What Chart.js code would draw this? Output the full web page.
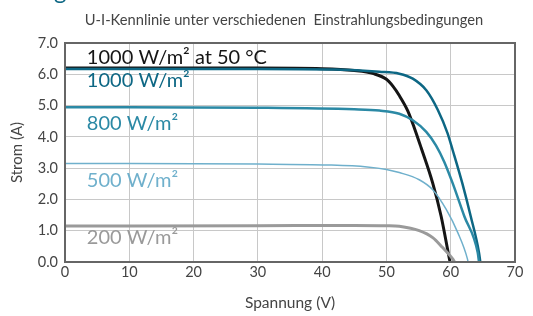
<!DOCTYPE html>
<html>
<head>
<meta charset="utf-8">
<script src="https://cdn.jsdelivr.net/npm/chart.js@4"></script>
<style>
  html, body { margin: 0; padding: 0; background: #fff; }
  #wrap { width: 533px; height: 316px; }
</style>
</head>
<body>
<div id="wrap"><canvas id="chart" width="533" height="316"></canvas></div>
<script>
// Données (Spannung en V, Strom en A)
const xTicks = [0, 10, 20, 30, 40, 50, 60, 70]
const yTicks = [0, 1, 2, 3, 4, 5, 6, 7]

const hot1000V = [0, 30, 40, 45, 48, 50, 51, 52, 53.3, 54.3, 55.4, 57.2, 58.5, 59.8, 59.9]
const hot1000I = [6.2, 6.2, 6.18, 6.12, 6.02, 5.84, 5.62, 5.32, 4.84, 4.31, 3.65, 2.52, 1.47, 0.1, 0]

const irr1000V = [0, 30, 42, 48.9, 52, 54.1, 56.2, 58, 59.5, 60.3, 61.8, 63.1, 64.4, 64.6]
const irr1000I = [6.17, 6.17, 6.15, 6.08, 6.02, 5.86, 5.49, 4.86, 4.12, 3.58, 2.52, 1.47, 0.3, 0]

const irr800V = [0, 30, 45, 48.9, 52, 54.1, 56.2, 57.7, 59, 60.3, 62.1, 64.2, 64.4]
const irr800I = [4.95, 4.93, 4.88, 4.84, 4.74, 4.53, 4.16, 3.73, 3.2, 2.52, 1.47, 0.3, 0]

const irr500V = [0, 30, 41, 47, 50, 52, 55.1, 57.2, 59.3, 61.1, 62.6, 62.7]
const irr500I = [3.15, 3.13, 3.1, 3.04, 2.96, 2.86, 2.63, 2.31, 1.68, 0.94, 0.1, 0]

const irr200V = [0, 30, 45, 50, 52, 55.1, 57.2, 58.7, 60.3, 60.6]
const irr200I = [1.15, 1.16, 1.17, 1.16, 1.14, 1.0, 0.78, 0.47, 0.1, 0]

// Etiquettes des courbes : texte, position (V, A), couleur
const labelTexts = ['1000 W/m² at 50 °C', '1000 W/m²', '800 W/m²', '500 W/m²', '200 W/m²']
const labelV = [3.4, 3.4, 3.4, 3.4, 3.4]
const labelI = [6.55, 5.81, 4.44, 2.59, 0.77]
const labelColors = ['#151515', '#0d6784', '#2b89a5', '#6fb0cc', '#9a9a9a']

function toPoints(xs, ys){  // Assemble les couples (x, y)
  return xs.map((x, i) => ({x: x, y: ys[i]}))
}

function serie(label, xs, ys, color, width){
  return {
    label: label,
    data: toPoints(xs, ys),
    showLine: true,
    borderColor: color,
    backgroundColor: color,
    borderWidth: width,
    pointRadius: 0,
    cubicInterpolationMode: 'monotone',
    fill: false
  }
}

const FONT = 'Lato, "Open Sans", sans-serif'

// Plugin : titre, cadre et étiquettes de courbes
const decorations = {
  id: 'decorations',
  afterDatasetsDraw(chart){
    const ctx = chart.ctx
    const xs = chart.scales.x
    const ys = chart.scales.y
    const area = chart.chartArea
    ctx.save()
    // cadre
    ctx.strokeStyle = '#666'
    ctx.lineWidth = 2
    ctx.strokeRect(area.left, area.top, area.right - area.left, area.bottom - area.top)
    // étiquettes
    ctx.font = '20px ' + FONT
    ctx.textBaseline = 'middle'
    ctx.textAlign = 'left'
    labelTexts.forEach((t, i) => {
      ctx.fillStyle = labelColors[i]
      ctx.fillText(t, xs.getPixelForValue(labelV[i]), ys.getPixelForValue(labelI[i]))
    })
    // titre
    ctx.fillStyle = '#444'
    ctx.font = '14.7px ' + FONT
    ctx.textAlign = 'center'
    ctx.fillText('U-I-Kennlinie unter verschiedenen  Einstrahlungsbedingungen', 284, 20)
    // morceau de titre coupé en haut
    ctx.fillStyle = '#0d6784'
    ctx.font = '24px ' + FONT
    ctx.textAlign = 'left'
    ctx.textBaseline = 'alphabetic'
    ctx.fillText('g', 54, -1)
    ctx.restore()
  }
}

const config = {
  type: 'scatter',
  data: {
    datasets: [
      serie('200 W/m²', irr200V, irr200I, '#9a9a9a', 3),
      serie('500 W/m²', irr500V, irr500I, '#6fb0cc', 1.5),
      serie('800 W/m²', irr800V, irr800I, '#2b89a5', 2.5),
      serie('1000 W/m²', irr1000V, irr1000I, '#0d6784', 2.5),
      serie('1000 W/m² at 50 °C', hot1000V, hot1000I, '#151515', 3)
    ]
  },
  options: {
    responsive: false,
    animation: false,
    layout: { padding: { top: 43, right: 18, left: 0, bottom: 0 } },
    plugins: {
      legend: { display: false },
      title: { display: false },
      tooltip: { enabled: false }
    },
    scales: {
      x: {
        type: 'linear',
        min: 0,
        max: 70,
        afterBuildTicks: (s) => { s.ticks = xTicks.map(v => ({value: v})) },
        ticks: { color: '#444', font: { family: FONT, size: 14.5 }, padding: 2 },
        grid: { color: '#c8c8c8', lineWidth: 1, drawTicks: false },
        border: { display: false },
        title: { display: true, text: 'Spannung (V)', color: '#444', font: { family: FONT, size: 15.5 }, padding: { top: 8 } },
        afterFit: (s) => { s.height = 54 }
      },
      y: {
        type: 'linear',
        min: 0,
        max: 7,
        afterBuildTicks: (s) => { s.ticks = yTicks.map(v => ({value: v})) },
        ticks: { color: '#444', font: { family: FONT, size: 14.5 }, padding: 7, callback: (v) => v.toFixed(1) },
        grid: { color: '#c8c8c8', lineWidth: 1, drawTicks: false },
        border: { display: false },
        title: { display: true, text: 'Strom (A)', color: '#444', font: { family: FONT, size: 15 }, padding: { top: 8, bottom: 0 } },
        afterFit: (s) => { s.width = 65 }
      }
    }
  },
  plugins: [decorations]
}

new Chart(document.getElementById('chart').getContext('2d'), config)
</script>
</body>
</html>
